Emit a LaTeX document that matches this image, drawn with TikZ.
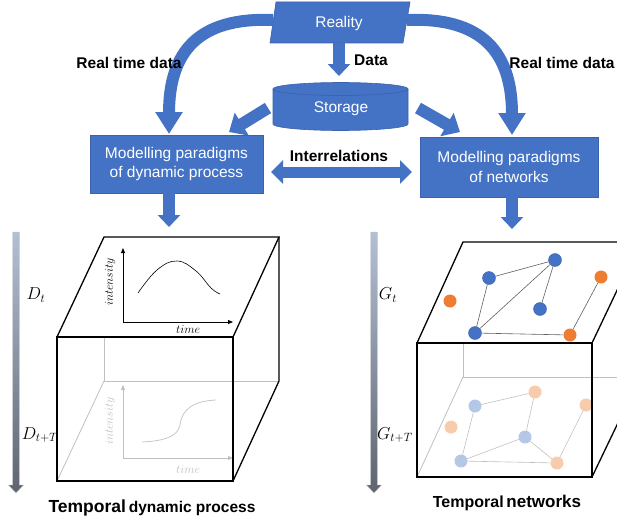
\documentclass[tikz,border=0pt]{standalone}
\usepackage{fontspec}
\setmainfont{Liberation Sans}
\usetikzlibrary{arrows.meta,calc}
\definecolor{mblue}{HTML}{4472C4}
\definecolor{mborder}{HTML}{3A62AD}
\definecolor{morange}{HTML}{ED7D31}
\definecolor{lblue}{HTML}{B4C7E7}
\definecolor{lorange}{HTML}{F8CBAD}
\definecolor{garrtop}{HTML}{B3C0D4}
\definecolor{garrbot}{HTML}{5E6570}
\definecolor{hid}{HTML}{C0C0C0}
\definecolor{edgetop}{HTML}{606060}
\begin{document}
\begin{tikzpicture}[x=1pt,y=-1pt,
  txt/.style={font=\fontsize{15.5}{19}\selectfont},
  btxt/.style={font=\fontsize{15.5}{19}\selectfont\bfseries},
  box/.style={fill=mblue, draw=mborder, line width=0.6pt, text=white, align=center, inner sep=0pt,
    font=\fontsize{15.5}{19.5}\selectfont},
  fatarrow/.style={draw=mblue, line width=12pt, -{Triangle[length=22pt,width=26pt]}},
  midarrow/.style={draw=mblue, line width=12pt, -{Triangle[length=15pt,width=26pt]}},
  smallarrow/.style={draw=mblue, line width=12pt, -{Triangle[length=12pt,width=22pt]}},
  dblarrow/.style={draw=mblue, line width=11pt, {Triangle[length=12pt,width=23pt]}-{Triangle[length=12pt,width=23pt]}},
  cubeedge/.style={draw=black, line width=1.3pt, line join=miter},
  hidedge/.style={draw=hid, line width=0.8pt},
  axis/.style={draw=black, line width=0.8pt, -{Triangle[length=5pt,width=4pt]}},
  gaxis/.style={draw=hid, line width=0.8pt, -{Triangle[length=5pt,width=4pt]}},
  lab/.style={font=\fontsize{12.5}{13}\selectfont},
  mlab/.style={font=\fontsize{18.5}{19}\selectfont},
  nb/.style={circle, fill=mblue, draw=mborder, line width=0.4pt, minimum size=13pt, inner sep=0pt},
  no/.style={circle, fill=morange, minimum size=13pt, inner sep=0pt},
  nlb/.style={circle, fill=lblue, minimum size=13pt, inner sep=0pt},
  nlo/.style={circle, fill=lorange, minimum size=13pt, inner sep=0pt},
  ed/.style={draw=edgetop, line width=0.6pt},
  led/.style={draw=hid, line width=0.6pt},
  garrow/.style={top color=garrtop, bottom color=garrbot, draw=gray!45, line width=0.4pt}
]
\useasboundingbox (0,0) rectangle (617,519);
\clip (0,0) rectangle (617,519);

% ---------- Reality ----------
\fill[mblue, draw=mborder, line width=0.6pt] (276,2) -- (410,2) -- (403,43) -- (270,43) -- cycle;
\node[txt, text=white] (reality) at (339,23) {Reality};

% ---------- Storage cylinder ----------
\filldraw[fill=mblue, draw=mborder, line width=0.6pt]
  (273,89) -- plot[domain=180:0, samples=50] ({340.5+67.5*cos(\x)},{124+6.5*sin(\x)})
  -- (408,89) -- plot[domain=0:-180, samples=50] ({340.5+67.5*cos(\x)},{89+6.5*sin(\x)}) -- cycle;
\draw[mborder, line width=0.6pt] plot[domain=0:180, samples=50] ({340.5+67.5*cos(\x)},{89+6.5*sin(\x)});
\node[txt, text=white] (storage) at (341,109) {Storage};

% ---------- Modelling boxes ----------
\node[box, minimum width=173pt, minimum height=58pt] (dyn) at (176.5,164) {Modelling paradigms\\of dynamic process};
\node[box, minimum width=178pt, minimum height=60pt] (net) at (509,167) {Modelling paradigms\\of networks};

% ---------- connector end points ----------
\coordinate (rL) at (273,20);
\coordinate (rR) at (407,20);
\coordinate (tL) at (169,134);
\coordinate (tR) at (512,135);
\coordinate (dA) at (339,43);
\coordinate (dB) at (339,76);
\coordinate (sL0) at (268,108);
\coordinate (sL1) at (229,132);
\coordinate (sR0) at (418,108);
\coordinate (sR1) at (460,132);
\coordinate (iL) at (271,172);
\coordinate (iR) at (412,172);
\coordinate (dnL0) at (169,193);
\coordinate (dnL1) at (169,227);
\coordinate (dnR0) at (512,197);
\coordinate (dnR1) at (512,229);

% ---------- blue arrows ----------
\draw[fatarrow] (rL) .. controls (198,17) and (169,52) .. (tL);
\draw[fatarrow] (rR) .. controls (482,17) and (512,52) .. (tR);
\draw[smallarrow] (dA) -- (dB);
\draw[midarrow] (sL0) -- (sL1);
\draw[midarrow] (sR0) -- (sR1);
\draw[dblarrow] (iL) -- (iR);
\draw[smallarrow] (dnL0) -- (dnL1);
\draw[smallarrow] (dnR0) -- (dnR1);

% ---------- labels ----------
\node[btxt] (rtl) at (129,63) {Real time data};
\node[btxt] (rtr) at (562,63) {Real time data};
\node[btxt] (data) at (371,60) {Data};
\node[btxt] (inter) at (339,156) {Interrelations};

% ---------- gray time arrows ----------
\shade[garrow] (12.7,232) -- (19.3,232) -- (19.3,485) -- (23.5,485) -- (16,493) -- (8.5,485) -- (12.7,485) -- cycle;
\shade[garrow] (370.7,232) -- (377.3,232) -- (377.3,485) -- (381.5,485) -- (374,493) -- (366.5,485) -- (370.7,485) -- cycle;

% ---------- left cube ----------
% hidden edges
\draw[hidedge] (104,337) -- (104,381) -- (279,381);
\draw[hidedge] (104,381) -- (57,481);
% bottom plot
\draw[gaxis] (123,458) -- (123,385);
\draw[gaxis] (123,458) -- (233,458);
\draw[draw=hid, line width=0.7pt] (142,442) .. controls (165,441) and (178,436) .. (180,425)
  .. controls (182,408) and (195,401) .. (216,400);
\node[lab, text=hid, rotate=90] (int2) at (110,421) {$intensity$};
\node[lab, text=hid] (time2) at (188,470) {$time$};
% visible edges
\draw[cubeedge] (57,337) -- (104,237) -- (279,237) -- (233,337) -- cycle;
\draw[cubeedge] (57,337) rectangle (233,481);
\draw[cubeedge] (279,237) -- (279,381) -- (233,481);
% top plot
\draw[axis] (123,322) -- (123,248);
\draw[axis] (123,322) -- (233,322);
\draw[black, line width=0.6pt] plot[smooth, tension=0.7] coordinates {(138,293) (157,270) (177,261) (196,271) (211,288) (220,294)};
\node[lab, rotate=90] (int1) at (110,282) {$intensity$};
\node[lab] (time1) at (188,330) {$time$};
% labels
\node[mlab] (dt) at (36,295) {$D_t$};
\node[mlab] (dtT) at (40,435) {$D_{t+T}$};
\node[font=\bfseries] (cap1) at (152,508) {{\fontsize{17.5}{20}\selectfont Temporal} {\fontsize{15.5}{20}\selectfont dynamic process}};

% ---------- right cube ----------
\draw[hidedge] (463,343) -- (463,377) -- (640,377);
\draw[hidedge] (463,377) -- (417,477);
% bottom network
\node[nlb] (b1) at (475,406) {};
\node[nlb] (b2) at (525,437) {};
\node[nlb] (b3) at (461,461) {};
\node[nlo] (o1) at (535,392) {};
\node[nlo] (o2) at (586,405) {};
\node[nlo] (o3) at (451,427) {};
\node[nlo] (o4) at (557,463) {};
\draw[led] (b1) -- (o1);
\draw[led] (b1) -- (b3);
\draw[led] (o1) -- (b2);
\draw[led] (b2) -- (b3);
\draw[led] (b3) -- (o4);
\draw[led] (b2) -- (o4);
\draw[led] (o4) -- (o2);
% visible edges
\draw[cubeedge] (417,343) -- (463,242) -- (640,242) -- (592,343) -- cycle;
\draw[cubeedge] (417,343) rectangle (592,477);
\draw[cubeedge] (640,242) -- (640,377) -- (592,477);
% top network
\node[nb] (t1) at (489,278) {};
\node[nb] (t2) at (555,260) {};
\node[nb] (t3) at (540,309) {};
\node[nb] (t4) at (475,333) {};
\node[no] (p1) at (450,301) {};
\node[no] (p2) at (601,277) {};
\node[no] (p3) at (570,335) {};
\draw[ed] (t1) -- (t2);
\draw[ed] (t1) -- (t4);
\draw[ed] (t4) -- (t2);
\draw[ed] (t2) -- (t3);
\draw[ed] (t4) -- (p3);
\draw[ed] (p3) -- (p2);
% labels
\node[mlab] (gt) at (388,295) {$G_t$};
\node[mlab] (gtT) at (395,435) {$G_{t+T}$};
\node[font=\bfseries] (cap2) at (507,503) {{\fontsize{16}{20}\selectfont Temporal} {\fontsize{17}{20}\selectfont networks}};
\end{tikzpicture}
\end{document}
